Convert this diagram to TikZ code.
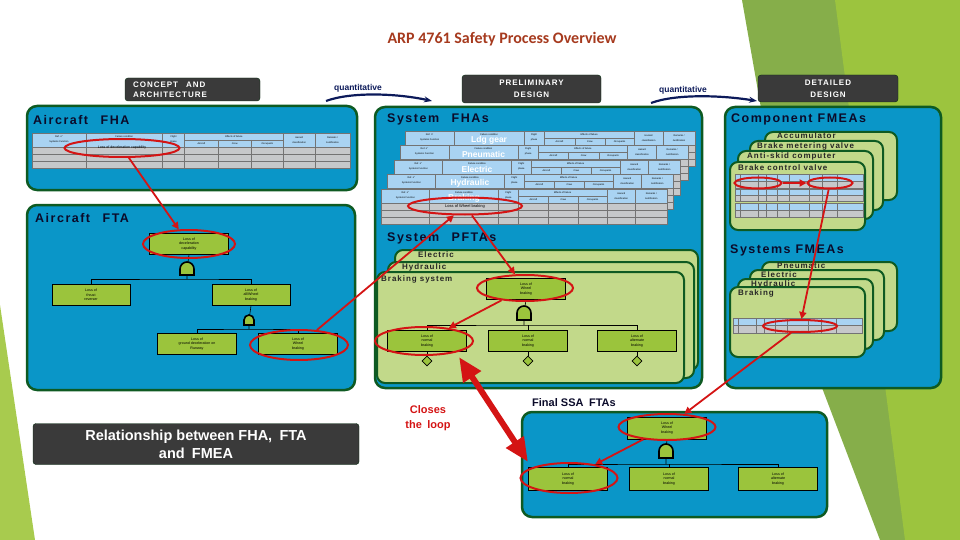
\documentclass[tikz,border=0pt]{standalone}
\usepackage{fontspec}
\setmainfont{Liberation Sans}
\newfontfamily\wsans[LetterSpace=12]{Liberation Sans}
\newfontfamily\titlef{Carlito}
\usetikzlibrary{shapes.geometric,arrows.meta}
\definecolor{pblue}{HTML}{0A96C8}
\definecolor{pgreen}{HTML}{0E5A22}
\definecolor{lgreen}{HTML}{C2D98A}
\definecolor{ftgreen}{HTML}{9BC43C}
\definecolor{darkg}{HTML}{3A3A3A}
\definecolor{ered}{HTML}{D41414}
\definecolor{navyk}{HTML}{0B0B2A}
\definecolor{hdrblue}{HTML}{A9D3F2}
\definecolor{tgrey}{HTML}{C6C8CA}
\definecolor{ttred}{HTML}{A63A1E}
\definecolor{qnavy}{HTML}{0C1A5A}
\definecolor{bgA}{HTML}{86AE4A}
\definecolor{bgB}{HTML}{9CC43E}
\definecolor{bgC}{HTML}{A8CB4E}
\newcommand\fhatab[5]{%
\begin{scope}[shift={(#1,#2)},xscale=#3/100]
 \fill[hdrblue] (0,0) rectangle (100,14);
 \fill[tgrey] (0,14) rectangle (100,#4);
 \foreach \cc in {17,41,48,79,89} \draw[tline] (\cc,0) -- (\cc,#4);
 \foreach \cc in {58.5,69} \draw[tline] (\cc,7) -- (\cc,#4);
 \draw[tline] (48,7) -- (79,7);
 \foreach \rr in {14,21,28} \draw[tline] (0,\rr) -- (100,\rr);
 \draw[tline] (0,0) rectangle (100,#4);
 \node[tt] at (8.5,3.5) {Ref. n°};
 \node[tt] at (8.5,9) {Systems Function};
 \node[tt] at (29,3.5) {Failure condition};
 \node[tt] at (44.5,3.5) {Flight};
 \node[tt] at (44.5,9) {phase};
 \node[tt] at (63.5,3.5) {Effects of failure};
 \node[tt] at (53.25,10.5) {Aircraft};
 \node[tt] at (63.75,10.5) {Crew};
 \node[tt] at (74,10.5) {Occupants};
 \node[tt] at (84,5) {Hazard};
 \node[tt] at (84,10) {classification};
 \node[tt] at (94.5,5) {Remarks /};
 \node[tt] at (94.5,10) {Justification};
 \node[tlab] at (29,9.5) {#5};
\end{scope}}
\newcommand\minitab[4]{%
\begin{scope}[shift={(#1,#2)},xscale=#3/100]
 \fill[hdrblue] (0,0) rectangle (100,#4/2);
 \fill[tgrey] (0,#4/2) rectangle (100,#4);
 \foreach \cc in {4,18,24,33,42,58,68,80} \draw[tline] (\cc,0) -- (\cc,#4);
 \draw[tline] (0,#4/2) -- (100,#4/2);
 \draw[tline] (0,0) rectangle (100,#4);
\end{scope}}
\begin{document}
\begin{tikzpicture}[x=1pt,y=-1pt,
 panel/.style={fill=pblue,draw=pgreen,line width=2.5pt,rounded corners=10pt},
 card/.style={fill=lgreen,draw=pgreen,line width=2pt,rounded corners=8pt},
 ptitle/.style={font=\wsans\bfseries\fontsize{12.5}{13}\selectfont,text=navyk,anchor=west,inner sep=0},
 ctitle/.style={font=\wsans\bfseries\fontsize{8}{9}\selectfont,text=black!85,anchor=west,inner sep=0},
 ft/.style={draw=black,fill=ftgreen,minimum width=79pt,minimum height=21pt,inner sep=0,align=center,font=\fontsize{3.6}{4.6}\selectfont,line width=0.6pt},
 redell/.style={draw=ered,line width=2pt,ellipse,inner sep=0},
 rarr/.style={draw=ered,line width=1.8pt,-{Triangle[length=7pt,width=7pt]}},
 dark/.style={fill=darkg,draw=pgreen!50!black,rounded corners=3pt,text=white,inner sep=0},
 tree/.style={line width=0.6pt},
 gate/.style={fill=ftgreen,draw=black,line width=1.6pt},
 tline/.style={draw=black!55,line width=0.3pt},
 tt/.style={font=\fontsize{2.4}{3}\selectfont,inner sep=0},
 tlab/.style={font=\bfseries\fontsize{8.5}{9}\selectfont,text=white,inner sep=0},
 dia/.style={draw=black,fill=ftgreen,diamond,minimum width=10pt,minimum height=10pt,inner sep=0,line width=0.6pt}]
\useasboundingbox (0,0) rectangle (960,540);
% background
\fill[bgA] (742,0) -- (960,0) -- (960,540) -- (880,540) -- (800,330) -- cycle;
\fill[bgB] (835,0) -- (960,0) -- (960,540) -- (905,540) -- cycle;
\fill[bgC] (0,305) -- (35,540) -- (0,540) -- cycle;
% title
\node[font=\titlef\bfseries\fontsize{16}{18}\selectfont,text=ttred] (title) at (502,39) {ARP 4761 Safety Process Overview};
% phase boxes
\node[dark,minimum width=135pt,minimum height=23pt] (concept) at (192.5,89.5) {};
\node[anchor=west,align=left,text=white,font=\wsans\bfseries\fontsize{8}{10}\selectfont,inner sep=0] (conceptt) at (133,89.5) {CONCEPT\quad AND\\ARCHITECTURE};
\node[dark,minimum width=139pt,minimum height=28pt,align=center,font=\wsans\bfseries\fontsize{8}{12}\selectfont] (prelim) at (531.5,89) {PRELIMINARY\\DESIGN};
\node[dark,minimum width=140pt,minimum height=27pt,align=center,font=\wsans\bfseries\fontsize{8}{12}\selectfont] (detail) at (828,88.5) {DETAILED\\DESIGN};
\node[font=\bfseries\fontsize{8.5}{9}\selectfont,text=qnavy] (q1) at (358,88) {quantitative};
\node[font=\bfseries\fontsize{8.5}{9}\selectfont,text=qnavy] (q2) at (683,90) {quantitative};
\coordinate (q1a) at (326,101); \coordinate (q1b) at (432,101);
\coordinate (q2a) at (651,103); \coordinate (q2b) at (757,101);
\draw[qnavy,line width=2.2pt,-{Stealth[length=8pt,width=6pt]}] (q1a) .. controls (350,92) and (395,93) .. (q1b);
\draw[qnavy,line width=2.2pt,-{Stealth[length=8pt,width=6pt]}] (q2a) .. controls (675,94) and (720,95) .. (q2b);
% Aircraft FHA
\draw[panel] (27,106) rectangle (357,190);
\node[ptitle] (afhat) at (33,120) {Aircraft\quad FHA};
\fhatab{32}{133}{318}{35}{}
\node[font=\fontsize{3.6}{4}\selectfont,inner sep=0] at (122,148) {Loss of deceleration capability};
% Aircraft FTA
\draw[panel] (27,205) rectangle (355,390);
\node[ptitle] (aftat) at (35,218) {Aircraft\quad FTA};
\node[ft] (a1) at (189,244) {Loss of\\deceleration\\capability};
\node[ft,minimum width=78pt] (a2) at (91,295) {Loss of\\thrust\\reverser};
\node[ft,minimum width=78pt] (a3) at (251,295) {Loss of\\all/Wheel\\braking};
\node[ft] (a4) at (197,344) {Loss of\\ground deceleration on\\Runway};
\node[ft] (a5) at (298,344) {Loss of\\Wheel\\braking};
\coordinate (ag1) at (187,269); \coordinate (ab1) at (187,279);
\coordinate (ag2) at (249,320); \coordinate (ab2) at (249,329);
\draw[tree] (a1.south) -- (ag1) -- (ab1);
\draw[tree] (a2.north) |- (ab1) -| (a3.north);
\draw[tree] (a3.south) -- (ag2) -- (ab2);
\draw[tree] (a4.north) |- (ab2) -| (a5.north);
\path[gate,shift={(ag1)}] (-7,6) -- (-7,0) arc[start angle=180,end angle=360,radius=7] -- (7,6) -- cycle;
\path[gate,shift={(ag2)}] (-5,5) -- (-5,0) arc[start angle=180,end angle=360,radius=5] -- (5,5) -- cycle;
\node[dark,minimum width=326pt,minimum height=41pt,align=center,font=\bfseries\fontsize{14.5}{18}\selectfont] (rel) at (196,444) {Relationship between FHA,\enspace FTA\\and\enspace FMEA};
% System panel
\draw[panel] (375,107) rectangle (702,388);
\node[ptitle] (sfhat) at (387,119) {System\quad FHAs};
\fhatab{405}{131}{290}{35}{Ldg gear}
\fhatab{400}{145}{288}{35}{Pneumatic}
\fhatab{394}{160}{286}{35}{Electric}
\fhatab{387}{174}{286}{35}{Hydraulic}
\fhatab{381}{189}{286}{35}{Braking}
\node[font=\fontsize{4}{4}\selectfont,inner sep=0] at (465,206) {Loss of Wheel braking};
\node[ptitle] (spftat) at (387,238) {System\quad PFTAs};
\draw[card] (395,250) rectangle (698,370);
\draw[card] (388,262) rectangle (694,378);
\draw[card] (377,272) rectangle (684,383);
\node[ctitle] (cel) at (418,255) {Electric};
\node[ctitle] (chy) at (402,267) {Hydraulic};
\node[ctitle] (cbr) at (381,279) {Braking system};
\node[ft] (p1) at (526,289) {Loss of\\Wheel\\braking};
\node[ft] (p2) at (427,341) {Loss of\\normal\\braking};
\node[ft] (p3) at (528,341) {Loss of\\normal\\braking};
\node[ft] (p4) at (637,341) {Loss of\\alternate\\braking};
\coordinate (pg) at (524,313); \coordinate (pb) at (524,325);
\draw[tree] (p1.south) -- (pg) -- (pb);
\draw[tree] (p2.north) |- (pb) -| (p4.north);
\draw[tree] (p3.north) -- (p3.north |- pb);
\path[gate,shift={(pg)}] (-7,7) -- (-7,0) arc[start angle=180,end angle=360,radius=7] -- (7,7) -- cycle;
\node[dia] (d2) at (427,361) {};
\node[dia] (d3) at (528,361) {};
\node[dia] (d4) at (637,361) {};
\draw[tree] (p2.south) -- (d2.north);
\draw[tree] (p3.south) -- (d3.north);
\draw[tree] (p4.south) -- (d4.north);
% Component panel
\draw[panel] (725,107) rectangle (941,388);
\node[ptitle] (cft) at (731,119) {Component FMEAs};
\draw[card] (765,132) rectangle (897,200);
\draw[card] (750,141) rectangle (883,210);
\draw[card] (738,151) rectangle (873,219);
\draw[card] (730,162) rectangle (865,230);
\node[ctitle] at (777,136) {Accumulator};
\node[ctitle] at (757,146) {Brake metering valve};
\node[ctitle] at (747,156) {Anti-skid computer};
\node[ctitle] at (738,168) {Brake control valve};
\minitab{735}{174}{128}{14}
\minitab{735}{189}{128}{12}
\minitab{735}{203}{128}{14}
\node[ptitle] (sft) at (730,250) {Systems FMEAs};
\draw[card] (762,262) rectangle (897,331);
\draw[card] (750,270) rectangle (884,340);
\draw[card] (738,279) rectangle (873,349);
\draw[card] (730,287) rectangle (865,357);
\node[ctitle] at (777,266) {Pneumatic};
\node[ctitle] at (761,275) {Electric};
\node[ctitle] at (751,284) {Hydraulic};
\node[ctitle] at (738,293) {Braking};
\minitab{733}{318}{129}{15}
% Final SSA
\node[anchor=west,inner sep=0,font=\bfseries\fontsize{11}{12}\selectfont,text=navyk] (fst) at (532,403) {Final SSA\enspace FTAs};
\draw[panel] (522,412) rectangle (827,517);
\node[ft,minimum height=22pt] (f1) at (667,428) {Loss of\\Wheel\\braking};
\node[ft,minimum height=23pt] (f2) at (568,479) {Loss of\\normal\\braking};
\node[ft,minimum height=23pt] (f3) at (669,479) {Loss of\\normal\\braking};
\node[ft,minimum height=23pt] (f4) at (778,479) {Loss of\\alternate\\braking};
\coordinate (fg) at (666,451); \coordinate (fb) at (666,464);
\draw[tree] (f1.south) -- (fg) -- (fb);
\draw[tree] (f2.north) |- (fb) -| (f4.north);
\draw[tree] (f3.north) -- (f3.north |- fb);
\path[gate,shift={(fg)}] (-7,7) -- (-7,0) arc[start angle=180,end angle=360,radius=7] -- (7,7) -- cycle;
\node[align=center,font=\bfseries\fontsize{11}{15}\selectfont,text=ered] (loop) at (428,418) {Closes\\the\enspace loop};
% red ellipses
\node[redell,minimum width=115pt,minimum height=18pt] (e1) at (122,148) {};
\node[redell,minimum width=92pt,minimum height=28pt] (e2) at (189,244) {};
\node[redell,minimum width=98pt,minimum height=30pt] (e3) at (299,345) {};
\node[redell,minimum width=114pt,minimum height=17pt] (e4) at (465,206) {};
\node[redell,minimum width=96pt,minimum height=26pt] (e5) at (525,288) {};
\node[redell,minimum width=98pt,minimum height=28pt] (e6) at (424,341) {};
\node[redell,minimum width=47pt,minimum height=11pt] (e7) at (758,183) {};
\node[redell,minimum width=45pt,minimum height=11pt] (e8) at (830,183) {};
\node[redell,minimum width=74pt,minimum height=12pt] (e9) at (800,326) {};
\node[redell,minimum width=97pt,minimum height=26pt] (e10) at (667,427) {};
\node[redell,minimum width=97pt,minimum height=30pt] (e11) at (569,478) {};
% red arrows
\draw[rarr] (e1) -- (e2);
\draw[rarr] (e3) -- (e4);
\draw[rarr] (e4) -- (e5);
\draw[rarr] (e5) -- (e6);
\draw[rarr] (e7) -- (e8);
\draw[rarr] (e8) -- (e9);
\draw[rarr] (e9) -- (e10);
\draw[rarr] (e10) -- (e11);
\coordinate (bigA) at (459,357);
\coordinate (bigB) at (528,462);
\draw[ered,line width=6pt,{Triangle[length=24pt,width=20pt]}-{Triangle[length=24pt,width=20pt]}] (bigA) -- (bigB);
\end{tikzpicture}
\end{document}
